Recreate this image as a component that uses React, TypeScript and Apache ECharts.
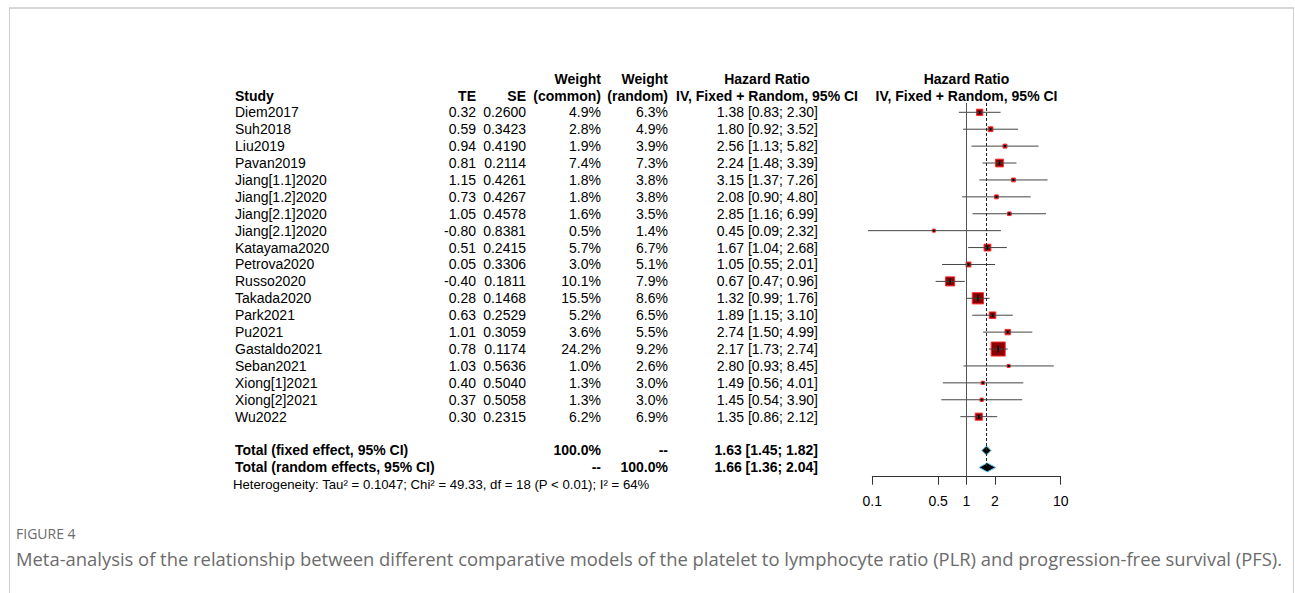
import React, { useEffect, useRef } from "react";
import * as echarts from "echarts";

const studies = ["Diem2017","Suh2018","Liu2019","Pavan2019","Jiang[1.1]2020","Jiang[1.2]2020","Jiang[2.1]2020","Jiang[2.1]2020","Katayama2020","Petrova2020","Russo2020","Takada2020","Park2021","Pu2021","Gastaldo2021","Seban2021","Xiong[1]2021","Xiong[2]2021","Wu2022"];
const te = [0.32,0.59,0.94,0.81,1.15,0.73,1.05,-0.80,0.51,0.05,-0.40,0.28,0.63,1.01,0.78,1.03,0.40,0.37,0.30];
const se = [0.2600,0.3423,0.4190,0.2114,0.4261,0.4267,0.4578,0.8381,0.2415,0.3306,0.1811,0.1468,0.2529,0.3059,0.1174,0.5636,0.5040,0.5058,0.2315];
const wCommon = [4.9,2.8,1.9,7.4,1.8,1.8,1.6,0.5,5.7,3.0,10.1,15.5,5.2,3.6,24.2,1.0,1.3,1.3,6.2];
const wRandom = [6.3,4.9,3.9,7.3,3.8,3.8,3.5,1.4,6.7,5.1,7.9,8.6,6.5,5.5,9.2,2.6,3.0,3.0,6.9];
const hr = [1.38,1.80,2.56,2.24,3.15,2.08,2.85,0.45,1.67,1.05,0.67,1.32,1.89,2.74,2.17,2.80,1.49,1.45,1.35];
const ciLow = [0.83,0.92,1.13,1.48,1.37,0.90,1.16,0.09,1.04,0.55,0.47,0.99,1.15,1.50,1.73,0.93,0.56,0.54,0.86];
const ciHigh = [2.30,3.52,5.82,3.39,7.26,4.80,6.99,2.32,2.68,2.01,0.96,1.76,3.10,4.99,2.74,8.45,4.01,3.90,2.12];

const totalLabels = ["Total (fixed effect, 95% CI)", "Total (random effects, 95% CI)"];
const totalWCommon = ["100.0%", "--"];
const totalWRandom = ["--", "100.0%"];
const totalHr = [1.63, 1.66];
const totalLow = [1.45, 1.36];
const totalHigh = [1.82, 2.04];
const totalRows = [20, 21];
const xTicks = [0.1, 0.5, 1, 2, 10];
const heterogeneity = "Heterogeneity: Tau² = 0.1047; Chi² = 49.33, df = 18 (P < 0.01); I² = 64%";
const captionTitle = "FIGURE 4";
const captionText = "Meta-analysis of the relationship between different comparative models of the platelet to lymphocyte ratio (PLR) and progression-free survival (PFS).";

const FONT = "'Liberation Sans', Arial, Helvetica, sans-serif";
const Y_MIN = -0.55;
const Y_MAX = 21.55;
const GRID_TOP = 103;
const GRID_H = 373.7;
const rowY = (r: number) => GRID_TOP + ((r - Y_MIN) / (Y_MAX - Y_MIN)) * GRID_H;

const fmtCI = (e: number, l: number, u: number) => `${e.toFixed(2)} [${l.toFixed(2)}; ${u.toFixed(2)}]`;

function txt(text: string, x: number, y: number, align: string, bold = false, size = 14, fill = "#000", family = FONT) {
  return {
    type: "text",
    x, y,
    style: { text, fill, font: `${bold ? "bold " : ""}${size}px ${family}`, align, verticalAlign: "middle" },
    silent: true,
  };
}

export default function App() {
  const ref = useRef<HTMLDivElement>(null);
  useEffect(() => {
    document.body.style.margin = "0";
    const chart = echarts.init(ref.current!, null, { renderer: "svg" });

    const g: any[] = [];
    // frame
    g.push({ type: "line", shape: { x1: 9, y1: 8, x2: 1294, y2: 8 }, style: { stroke: "#d6d6d6", lineWidth: 2 } });
    g.push({ type: "line", shape: { x1: 9.5, y1: 8, x2: 9.5, y2: 593 }, style: { stroke: "#cfcfcf", lineWidth: 1 } });
    g.push({ type: "line", shape: { x1: 1293.5, y1: 8, x2: 1293.5, y2: 593 }, style: { stroke: "#cfcfcf", lineWidth: 1 } });

    // headers
    const h1 = 78.5, h2 = 95.5;
    g.push(txt("Study", 235, h2, "left", true));
    g.push(txt("TE", 476, h2, "right", true));
    g.push(txt("SE", 526, h2, "right", true));
    g.push(txt("Weight", 601, h1, "right", true));
    g.push(txt("(common)", 601, h2, "right", true));
    g.push(txt("Weight", 668, h1, "right", true));
    g.push(txt("(random)", 668, h2, "right", true));
    g.push(txt("Hazard Ratio", 767, h1, "center", true));
    g.push(txt("IV, Fixed + Random, 95% CI", 767, h2, "center", true));
    g.push(txt("Hazard Ratio", 966.5, h1, "center", true));
    g.push(txt("IV, Fixed + Random, 95% CI", 966.5, h2, "center", true));

    studies.forEach((s, i) => {
      const y = rowY(i);
      g.push(txt(s, 235, y, "left"));
      g.push(txt(te[i].toFixed(2), 476, y, "right"));
      g.push(txt(se[i].toFixed(4), 526, y, "right"));
      g.push(txt(wCommon[i].toFixed(1) + "%", 601, y, "right"));
      g.push(txt(wRandom[i].toFixed(1) + "%", 668, y, "right"));
      g.push(txt(fmtCI(hr[i], ciLow[i], ciHigh[i]), 818, y, "right"));
    });
    totalLabels.forEach((s, k) => {
      const y = rowY(totalRows[k]);
      g.push(txt(s, 235, y, "left", true));
      g.push(txt(totalWCommon[k], 601, y, "right", true));
      g.push(txt(totalWRandom[k], 668, y, "right", true));
      g.push(txt(fmtCI(totalHr[k], totalLow[k], totalHigh[k]), 818, y, "right", true));
    });
    g.push(txt(heterogeneity, 233, rowY(22) + 0.5, "left", false, 13.2));
    g.push(txt(captionTitle, 16, 533, "left", false, 14, "#6b6b6b", "'Open Sans', sans-serif"));
    g.push(txt(captionText, 16, 558, "left", false, 18.4, "#6b6b6b", "'Open Sans', sans-serif"));

    const studyData = studies.map((_, i) => [ciLow[i], ciHigh[i], hr[i], i, wCommon[i]]);
    const totalData = totalRows.map((r, k) => [totalLow[k], totalHigh[k], totalHr[k], r]);

    chart.setOption({
      animation: false,
      grid: { left: 872.3, right: 1295 - 1060.7, top: GRID_TOP, height: GRID_H },
      xAxis: {
        type: "log",
        logBase: 10,
        min: 0.1,
        max: 10,
        position: "bottom",
        axisLine: { show: true, onZero: false, lineStyle: { color: "#333", width: 1 } },
        axisTick: { show: true, length: 8, inside: false, lineStyle: { color: "#333" }, customValues: xTicks },
        axisLabel: {
          show: true,
          margin: 17,
          fontSize: 14,
          fontFamily: FONT,
          color: "#000",
          customValues: xTicks,
          formatter: (v: number) => String(v),
        },
        splitLine: { show: false },
        minorTick: { show: false },
      },
      yAxis: { type: "value", inverse: true, min: Y_MIN, max: Y_MAX, show: false },
      graphic: g,
      series: [
        {
          type: "custom",
          name: "studies",
          clip: false,
          data: studyData,
          renderItem: (params: any, api: any) => {
            const lo = api.coord([api.value(0), api.value(3)]);
            const hi = api.coord([api.value(1), api.value(3)]);
            const c = api.coord([api.value(2), api.value(3)]);
            const size = Math.max(3, 2.85 * Math.sqrt(api.value(4)));
            const tick = Math.min(Math.max(size - 3, 2), 7);
            return {
              type: "group",
              children: [
                { type: "rect", shape: { x: c[0] - size / 2, y: c[1] - size / 2, width: size, height: size }, style: { fill: "#8B0000", stroke: "#FF2A2A", lineWidth: 1 } },
                { type: "line", shape: { x1: lo[0], y1: c[1], x2: hi[0], y2: c[1] }, style: { stroke: "#444", lineWidth: 1 } },
                { type: "line", shape: { x1: c[0], y1: c[1] - tick / 2, x2: c[0], y2: c[1] + tick / 2 }, style: { stroke: "#000", lineWidth: 1.5 } },
              ],
            };
          },
          markLine: {
            silent: true,
            symbol: "none",
            label: { show: false },
            data: [
              [{ coord: [1, Y_MIN] }, { coord: [1, Y_MAX] }],
            ],
            lineStyle: { color: "#555", type: "solid", width: 1 },
          },
          z: 3,
        },
        {
          type: "custom",
          name: "totals",
          clip: false,
          data: totalData,
          renderItem: (params: any, api: any) => {
            const lo = api.coord([api.value(0), api.value(3)]);
            const hi = api.coord([api.value(1), api.value(3)]);
            const c = api.coord([api.value(2), api.value(3)]);
            const h = 4.5;
            return {
              type: "polygon",
              shape: { points: [[lo[0], c[1]], [c[0], c[1] - h], [hi[0], c[1]], [c[0], c[1] + h]] },
              style: { fill: "#000", stroke: "#5EC8F2", lineWidth: 1 },
            };
          },
          markLine: {
            silent: true,
            symbol: "none",
            label: { show: false },
            data: [
              [{ coord: [totalHr[0], Y_MIN] }, { coord: [totalHr[0], totalRows[1]] }],
            ],
            lineStyle: { color: "#222", type: [3, 2], width: 1 },
          },
          z: 4,
        },
      ],
    });
    return () => chart.dispose();
  }, []);
  return <div ref={ref} style={{ width: 1295, height: 593 }} />;
}
